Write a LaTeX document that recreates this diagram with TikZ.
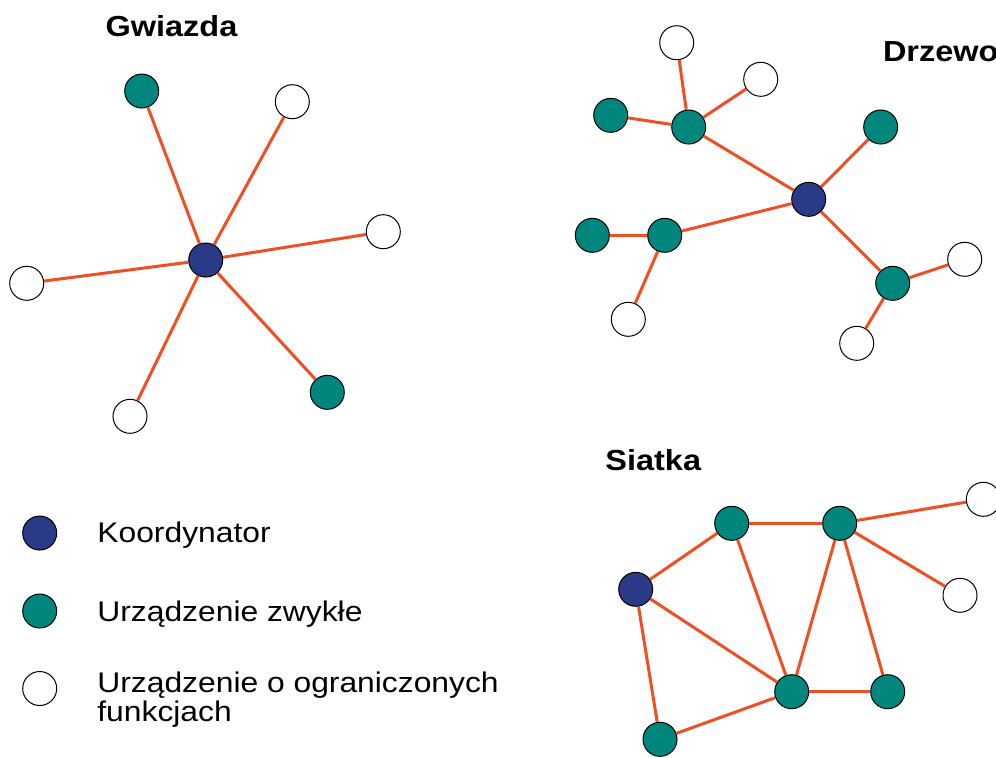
\documentclass[tikz,border=0pt]{standalone}
\usepackage{fontspec}
\setmainfont{Liberation Sans}[FakeStretch=1.12]
\definecolor{koordblue}{RGB}{43,58,134}
\definecolor{devgreen}{RGB}{0,134,125}
\definecolor{linkred}{RGB}{240,78,35}
\begin{document}
\begin{tikzpicture}[x=0.5pt,y=-0.5pt,
  koord/.style={draw, circle, fill=koordblue, minimum size=17pt, inner sep=0pt, line width=0.5pt},
  zwykle/.style={draw, circle, fill=devgreen, minimum size=17pt, inner sep=0pt, line width=0.5pt},
  ogr/.style={draw, circle, fill=white, minimum size=17pt, inner sep=0pt, line width=0.5pt},
  link/.style={draw, line width=1.5pt, color=linkred},
  title/.style={font=\fontsize{14.5}{17}\selectfont\bfseries, inner sep=0pt},
  legend/.style={font=\fontsize{14.2}{14.5}\selectfont, inner sep=0pt, anchor=base west, align=left}]
\useasboundingbox (0,0) rectangle (996,757);

% Gwiazda
\node[title, anchor=base] (tg) at (171.5,36.8) {Gwiazda};
\node[koord] (g0) at (205.7,260) {};
\node[zwykle] (g1) at (141.7,91) {};
\node[ogr] (g2) at (292.3,101.7) {};
\node[ogr] (g3) at (383.3,231.7) {};
\node[zwykle] (g4) at (327.3,392.3) {};
\node[ogr] (g5) at (130,416.3) {};
\node[ogr] (g6) at (26.7,283.3) {};
\path[link] (g0) -- (g1);
\path[link] (g0) -- (g2);
\path[link] (g0) -- (g3);
\path[link] (g0) -- (g4);
\path[link] (g0) -- (g5);
\path[link] (g0) -- (g6);

% Drzewo
\node[title, anchor=base west] (td) at (882.6,61.7) {Drzewo};
\node[koord] (d0) at (808.7,199.3) {};
\node[zwykle] (d1) at (688.7,127) {};
\node[ogr] (d2) at (676.7,42.7) {};
\node[ogr] (d3) at (760.7,79.3) {};
\node[zwykle] (d4) at (610.7,115.3) {};
\node[zwykle] (d5) at (880.7,127) {};
\node[zwykle] (d6) at (664.7,235.3) {};
\node[zwykle] (d7) at (592.3,235.3) {};
\node[ogr] (d8) at (628.3,319.3) {};
\node[zwykle] (d9) at (892.7,283.3) {};
\node[ogr] (d10) at (964.7,259.3) {};
\node[ogr] (d11) at (856.7,343.3) {};
\path[link] (d0) -- (d1);
\path[link] (d1) -- (d2);
\path[link] (d1) -- (d3);
\path[link] (d1) -- (d4);
\path[link] (d0) -- (d5);
\path[link] (d0) -- (d6);
\path[link] (d6) -- (d7);
\path[link] (d6) -- (d8);
\path[link] (d0) -- (d9);
\path[link] (d9) -- (d10);
\path[link] (d9) -- (d11);

% Siatka
\node[title, anchor=base west] (ts) at (605,470) {Siatka};
\node[koord] (s0) at (635.7,589.3) {};
\node[zwykle] (s1) at (731.7,523.3) {};
\node[zwykle] (s2) at (839.7,523.3) {};
\node[ogr] (s3) at (983.3,499.3) {};
\node[ogr] (s4) at (960,595.3) {};
\node[zwykle] (s5) at (791.7,691.7) {};
\node[zwykle] (s6) at (887.7,691.7) {};
\node[zwykle] (s7) at (660,739.3) {};
\path[link] (s0) -- (s1);
\path[link] (s0) -- (s5);
\path[link] (s0) -- (s7);
\path[link] (s1) -- (s2);
\path[link] (s1) -- (s5);
\path[link] (s2) -- (s5);
\path[link] (s2) -- (s6);
\path[link] (s2) -- (s3);
\path[link] (s2) -- (s4);
\path[link] (s5) -- (s6);
\path[link] (s5) -- (s7);

% legenda
\node[koord] (l1) at (39.7,533) {};
\node[zwykle] (l2) at (39.7,611) {};
\node[ogr] (l3) at (39.7,688.5) {};
\node[legend] (t1) at (97,542.7) {Koordynator};
\node[legend] (t2) at (97,621.5) {Urządzenie zwykłe};
\node[legend] (t3) at (97,721.7) {Urządzenie o ograniczonych\\funkcjach};
\end{tikzpicture}
\end{document}
